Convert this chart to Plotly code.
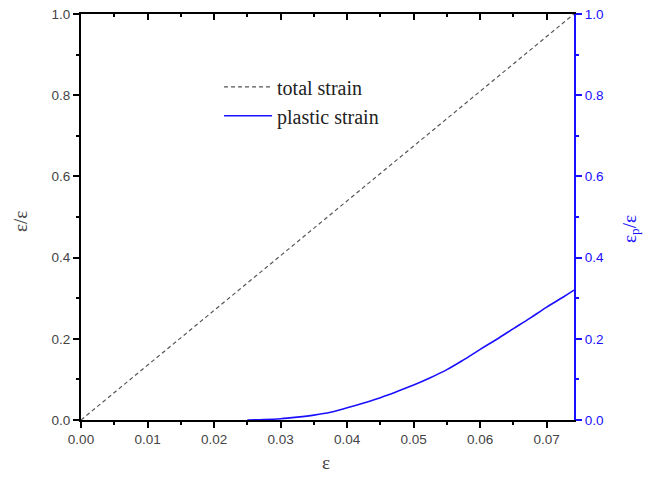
import plotly.graph_objects as go

eps_total = [0.0, 0.0741]
total_strain = [0.0, 1.0]

eps_plastic = [0.025, 0.0275, 0.03, 0.0325, 0.035, 0.0375,
               0.04, 0.0425, 0.045, 0.0475, 0.05, 0.0525, 0.055, 0.0575, 0.06, 0.0625,
               0.065, 0.0675, 0.07, 0.0725, 0.0741]
plastic_strain = [0.0, 0.001, 0.003, 0.007, 0.012, 0.019,
                  0.030, 0.042, 0.055, 0.070, 0.086, 0.104, 0.124, 0.148, 0.174, 0.199,
                  0.225, 0.251, 0.278, 0.303, 0.320]

x_ticks = [0.0, 0.01, 0.02, 0.03, 0.04, 0.05, 0.06, 0.07]
x_ticklabels = ["0.00", "0.01", "0.02", "0.03", "0.04", "0.05", "0.06", "0.07"]
y_ticks = [0.0, 0.2, 0.4, 0.6, 0.8, 1.0]
y_ticklabels = ["0.0", "0.2", "0.4", "0.6", "0.8", "1.0"]

BLUE = "#1a10ff"
SERIF = "Liberation Serif, Times New Roman, serif"
tickfont = dict(family="Liberation Sans, Arial", size=13.5, color="#444")

fig = go.Figure()
fig.add_trace(go.Scatter(x=eps_total, y=total_strain, mode="lines", name="total strain",
                         line=dict(color="#555", width=1.2, dash="4px,3px")))
fig.add_trace(go.Scatter(x=eps_plastic, y=plastic_strain, mode="lines", name="plastic strain",
                         line=dict(color=BLUE, width=1.6, shape="spline"), yaxis="y2"))
# dummy trace to activate top x axis
fig.add_trace(go.Scatter(x=[0], y=[0], xaxis="x2", mode="markers", marker=dict(opacity=0),
                         showlegend=False, hoverinfo="skip"))

fig.update_layout(
    width=654, height=484,
    margin=dict(l=81, r=80, t=14, b=64, autoexpand=False),
    paper_bgcolor="white", plot_bgcolor="white",
    showlegend=True,
    legend=dict(x=0.28, y=0.785, xanchor="left", yanchor="middle",
                bgcolor="rgba(0,0,0,0)", tracegroupgap=0, itemwidth=48,
                font=dict(family=SERIF, size=20, color="#222")),
    xaxis=dict(range=[0, 0.0741], tickvals=x_ticks, ticktext=x_ticklabels,
               showline=True, linecolor="black", linewidth=2, ticks="outside",
               ticklen=6, tickwidth=2, tickcolor="black", showgrid=False, zeroline=False,
               tickfont=tickfont, automargin=False,
               minor=dict(dtick=0.005, ticks="outside", ticklen=3, tickwidth=2, tickcolor="black")),
    xaxis2=dict(range=[0, 0.0741], overlaying="x", side="top", tickvals=x_ticks,
                showticklabels=False, showline=True, linecolor="black", linewidth=2,
                ticks="inside", ticklen=6, tickwidth=2, tickcolor="black",
                showgrid=False, zeroline=False, automargin=False,
                minor=dict(dtick=0.005, ticks="inside", ticklen=3, tickwidth=2, tickcolor="black")),
    yaxis=dict(range=[0, 1], tickvals=y_ticks, ticktext=y_ticklabels,
               showline=True, linecolor="black", linewidth=2, ticks="outside",
               ticklen=6, tickwidth=2, tickcolor="black", showgrid=False, zeroline=False,
               tickfont=tickfont, automargin=False,
               minor=dict(dtick=0.1, ticks="outside", ticklen=3, tickwidth=2, tickcolor="black")),
    yaxis2=dict(range=[0, 1], overlaying="y", side="right", tickvals=y_ticks, ticktext=y_ticklabels,
                showline=True, linecolor=BLUE, linewidth=2, ticks="outside",
                ticklen=6, tickwidth=2, tickcolor=BLUE, showgrid=False, zeroline=False,
                automargin=False,
                tickfont=dict(family="Liberation Sans, Arial", size=13.5, color=BLUE),
                minor=dict(dtick=0.1, ticks="outside", ticklen=3, tickwidth=2, tickcolor=BLUE)),
    annotations=[
        dict(text="ε", xref="paper", yref="paper", x=0.497, y=-0.105,
             xanchor="center", yanchor="middle",
             showarrow=False, font=dict(family=SERIF, size=19, color="#444")),
        dict(text="ε/ε", xref="paper", yref="paper", x=-0.124, y=0.49, textangle=-90,
             xanchor="center", yanchor="middle",
             showarrow=False, font=dict(family=SERIF, size=19, color="#444")),
        dict(text="ε<sub>p</sub>/ε", xref="paper", yref="paper", x=1.115, y=0.47, textangle=-90,
             xanchor="center", yanchor="middle",
             showarrow=False, font=dict(family=SERIF, size=19, color=BLUE)),
    ],
)

fig.write_html("out.html")
